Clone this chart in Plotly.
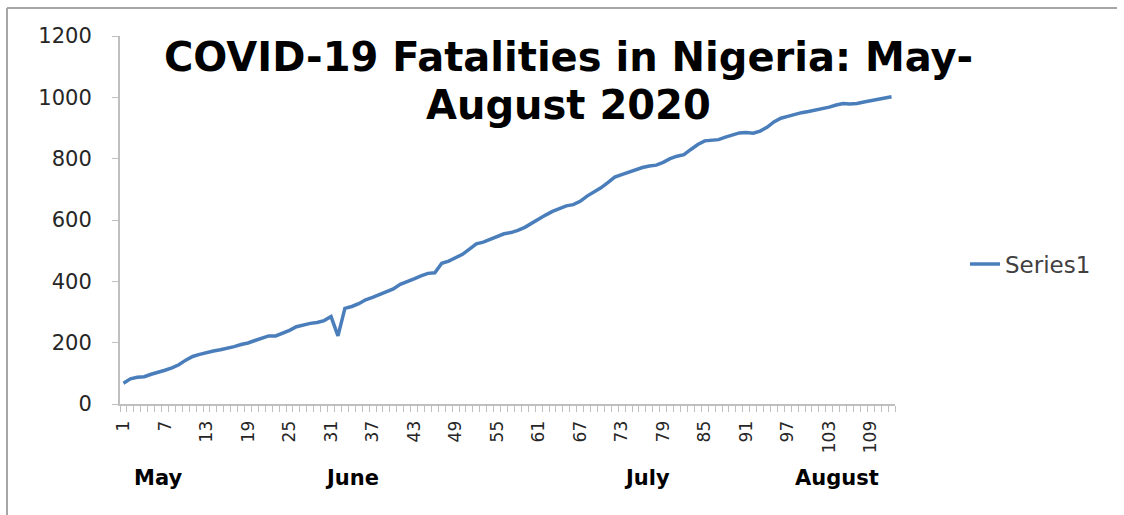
import plotly.graph_objects as go

days = list(range(1, 113))
fatalities = [68, 82, 87, 89, 97, 103, 110, 118, 128, 143,
              155, 162, 168, 173, 177, 181, 187, 194, 199, 207,
              216, 222, 222, 230, 240, 252, 258, 263, 266, 272,
              285, 222, 312, 318, 327, 340, 348, 358, 365, 375,
              390, 398, 408, 418, 426, 428, 459, 466, 476, 488,
              505, 522, 528, 538, 546, 555, 559, 566, 576, 590,
              604, 616, 628, 637, 646, 650, 661, 678, 690, 705,
              722, 740, 748, 756, 764, 771, 776, 779, 788, 800,
              808, 813, 830, 846, 858, 860, 862, 870, 878, 884,
              885, 883, 890, 902, 920, 932, 938, 945, 950, 954,
              958, 962, 968, 975, 980, 978, 980, 985, 989, 993,
              999, 1002]
tick_labels = list(range(1, 113, 6))
month_names = ["May", "June", "July", "August"]
month_pos = [6, 34, 76.6, 104.1]
title_lines = ["COVID-19 Fatalities in Nigeria: May-", "August 2020"]

fig = go.Figure()
fig.add_trace(go.Scatter(x=days, y=fatalities, mode="lines", name="Series1",
                         line=dict(color="#4A7EBB", width=3.5)))

fig.update_layout(
    width=1124, height=515,
    margin=dict(l=120, r=229, t=36, b=111),
    paper_bgcolor="white", plot_bgcolor="white",
    showlegend=True,
    legend=dict(x=(965 - 120) / 775, y=0.38, xanchor="left", yanchor="middle",
                font=dict(family="DejaVu Sans", size=23, color="#404040"),
                bgcolor="rgba(0,0,0,0)"),
    font=dict(family="DejaVu Sans", color="#262626"),
)
fig.update_xaxes(range=[0.5, 112.5], tickmode="array", tickvals=tick_labels,
                 ticktext=[str(t) for t in tick_labels], tickangle=-90,
                 ticks="", showgrid=False, zeroline=False,
                 showline=True, linecolor="#bfbfbf", linewidth=2,
                 ticklabelstandoff=8,
                 tickfont=dict(family="DejaVu Sans", size=17, color="#262626"),
                 minor=dict(tickmode="array",
                            tickvals=[d - 0.5 for d in days] + [days[-1] + 0.5],
                            ticks="outside", ticklen=6, tickcolor="#bfbfbf",
                            tickwidth=1, showgrid=False))
fig.update_yaxes(range=[0, 1200], dtick=200, ticks="outside", ticklen=6,
                 tickcolor="#bfbfbf", showgrid=False, zeroline=False,
                 showline=True, linecolor="#bfbfbf", linewidth=2,
                 ticklabelstandoff=16,
                 tickfont=dict(family="DejaVu Sans", size=21, color="#262626"))

for line_text, ypix in zip(title_lines, [57, 105]):
    fig.add_annotation(text="<b>" + line_text + "</b>",
                       xref="paper", yref="paper", x=(568 - 120) / 775, y=(404 - ypix) / 368,
                       xanchor="center", yanchor="middle", showarrow=False,
                       font=dict(family="DejaVu Sans", size=40, color="black"))

for name, pos in zip(month_names, month_pos):
    fig.add_annotation(text="<b>" + name + "</b>", xref="x", yref="paper",
                       x=pos, y=(404 - 478) / 368, xanchor="center", yanchor="middle",
                       showarrow=False, font=dict(family="DejaVu Sans", size=21, color="black"))

fig.add_shape(type="line", xref="paper", yref="paper",
              x0=-113 / 775, x1=-113 / 775, y0=-1, y1=(404 - 8) / 368,
              line=dict(color="#a6a6a6", width=2))
fig.add_shape(type="line", xref="paper", yref="paper",
              x0=-113 / 775, x1=(1117 - 120) / 775, y0=(404 - 8) / 368, y1=(404 - 8) / 368,
              line=dict(color="#a6a6a6", width=2))

fig.write_html("out.html")
